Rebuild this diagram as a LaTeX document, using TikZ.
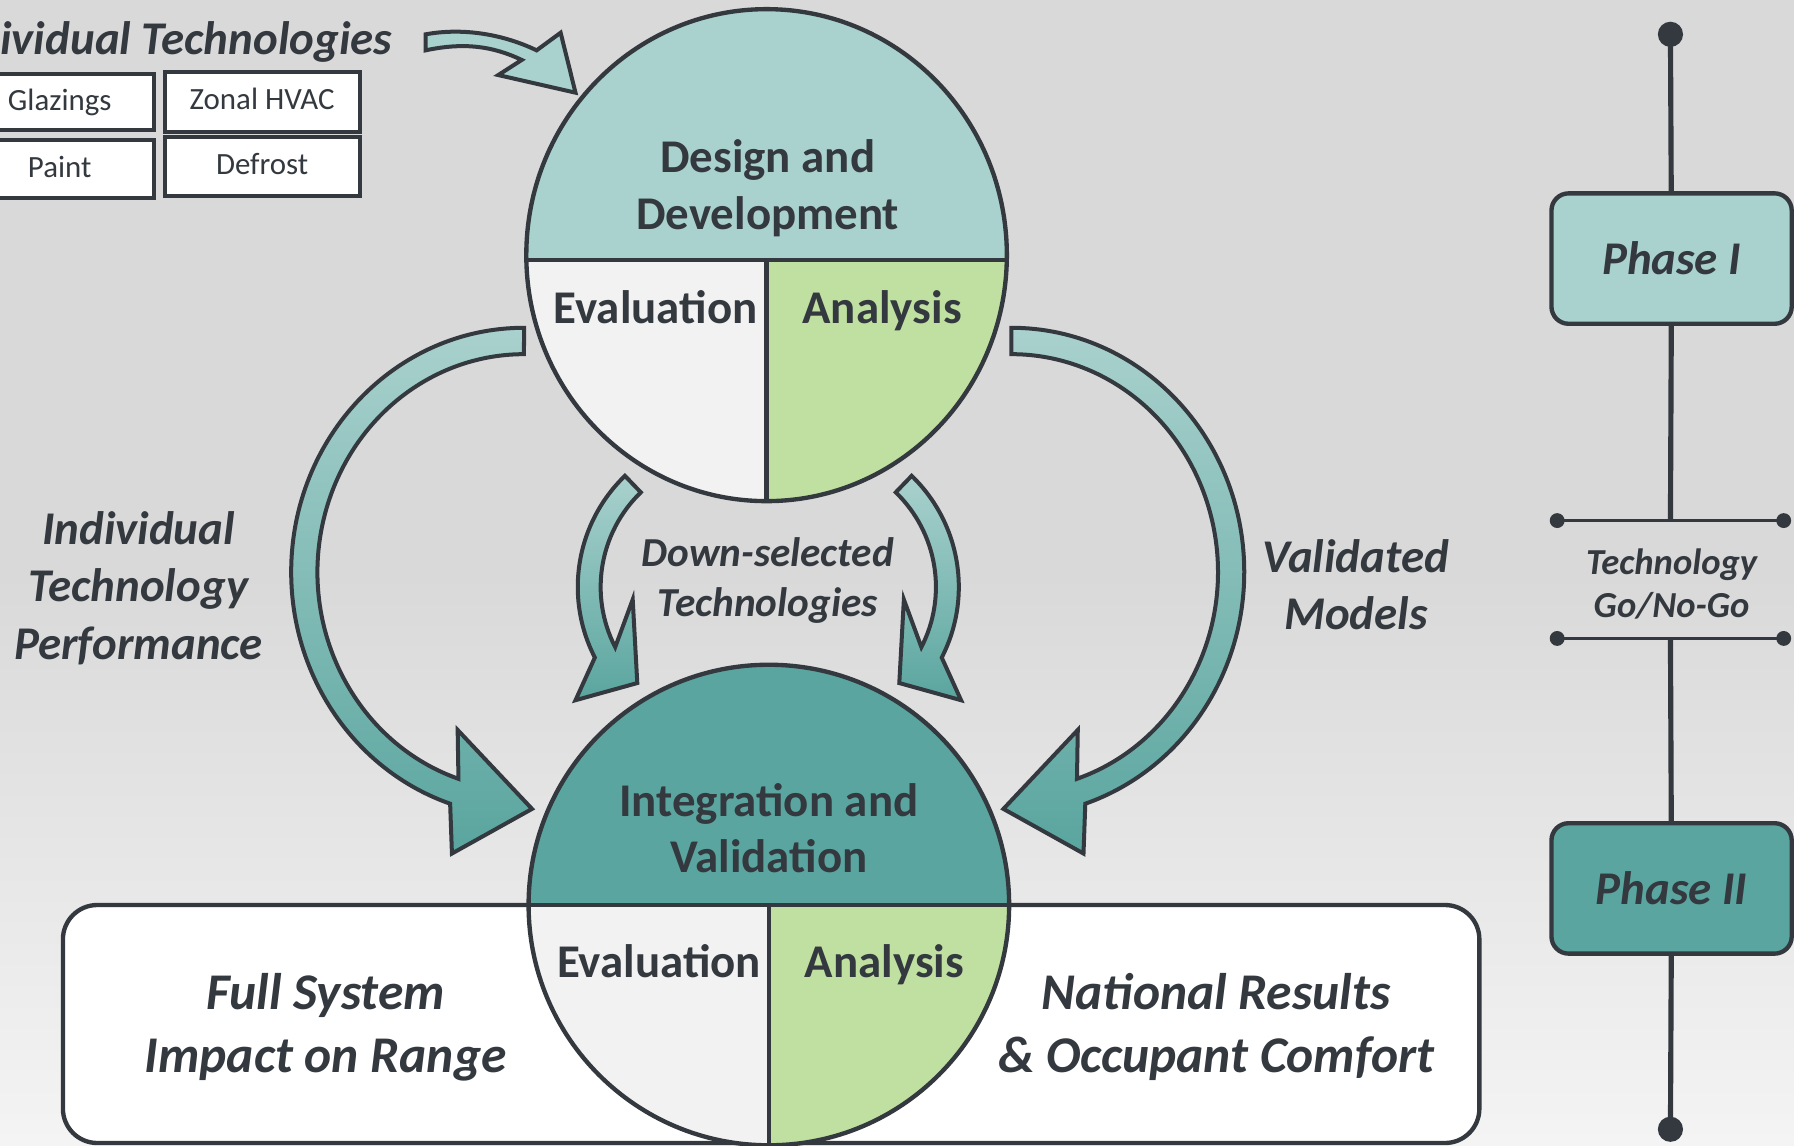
\documentclass[tikz,border=0pt]{standalone}
\usepackage{fontspec}
\setmainfont{Carlito}
\definecolor{ink}{HTML}{33393E}
\definecolor{tealL}{HTML}{A9D1CD}
\definecolor{tealD}{HTML}{5AA59F}
\definecolor{greenL}{HTML}{BFE0A1}
\definecolor{grayL}{HTML}{F2F2F2}
\definecolor{bgtop}{HTML}{D9D9D9}
\definecolor{bgbot}{HTML}{F4F4F4}
\begin{document}
\begin{tikzpicture}[x=1pt,y=-1pt,
  txt/.style={text=ink, inner sep=0pt, anchor=base},
  big/.style={txt, font=\fontsize{41}{49}\selectfont\bfseries},
  bigit/.style={txt, font=\fontsize{41}{49}\selectfont\bfseries\itshape},
  boxit/.style={txt, font=\fontsize{45}{54}\selectfont\bfseries\itshape},
  midit/.style={txt, font=\fontsize{36}{44}\selectfont\bfseries\itshape},
  smallit/.style={txt, font=\fontsize{32}{39}\selectfont\bfseries\itshape},
  techbox/.style={draw=ink, line width=3.5pt, fill=white, inner sep=0pt,
    text=ink, font=\fontsize{27}{32}\selectfont, text height=19pt, text depth=5pt},
  outline/.style={draw=ink, line width=3.8pt},
  blockarrow/.style={draw=ink, line width=3.5pt, line join=miter, top color=tealL, bottom color=tealD},
  phasebox/.style={draw=ink, line width=3.8pt, rounded corners=15pt, minimum width=210pt,
    minimum height=114pt, font=\fontsize{41}{49}\selectfont\bfseries\itshape, text=ink},
  tline/.style={draw=ink, line width=4.5pt},
  hline/.style={draw=ink, line width=3pt},
]
\useasboundingbox (0,0) rectangle (1568,1000.8);
\shade[top color=bgtop, bottom color=bgbot, middle color=bgtop] (0,0) rectangle (1568,1000.8);

% ---------- technology boxes ----------
\node[techbox, minimum width=164.5pt, minimum height=49.3pt] (glz) at (52.2,89.4) {Glazings};
\node[techbox, minimum width=170.6pt, minimum height=52.4pt] (zon) at (229.1,88.8) {Zonal HVAC};
\node[techbox, minimum width=164.5pt, minimum height=50.9pt] (pnt) at (52.2,147.9) {Paint};
\node[techbox, minimum width=170.6pt, minimum height=51.8pt] (dfr) at (229.1,145.4) {Defrost};
\node[bigit, anchor=base east] (ttl) at (343,48) {Individual Technologies};

% ---------- bottom results box ----------
\draw[draw=ink, line width=3.8pt, fill=white, rounded corners=30pt] (55,791) rectangle (1293,999);

% ---------- top circle ----------
\begin{scope}
  \clip (670,223) ellipse [x radius=210, y radius=215];
  \fill[tealL] (440,0) rectangle (900,227);
  \fill[grayL] (440,227) rectangle (670,460);
  \fill[greenL] (670,227) rectangle (900,460);
  \draw[outline] (440,227) -- (900,227);
  \draw[outline] (670,227) -- (670,460);
\end{scope}
\draw[outline] (670,223) ellipse [x radius=210, y radius=215];

% ---------- bottom circle ----------
\begin{scope}
  \clip (672,791) circle (210);
  \fill[tealD] (440,560) rectangle (900,791);
  \fill[grayL] (440,791) rectangle (672,1020);
  \fill[greenL] (672,791) rectangle (900,1020);
  \draw[outline] (440,791) -- (900,791);
  \draw[outline] (672,791) -- (672,1020);
\end{scope}
\draw[outline] (672,791) circle (210);

% ---------- arrows ----------
\path[draw=ink, line width=3.5pt, fill=tealL, line join=miter]
  (372,30) .. controls (405,24) and (440,30) .. (469,44) -- (490,28.6) -- (503,81)
  -- (435.5,65.6) -- (456,52.4) .. controls (430,40) and (405,37) .. (372,44) -- cycle;

\shade[blockarrow] (458,286.5) arc[start angle=-90, end angle=-251.5, x radius=203.5, y radius=213.5]
  -- (395,746) -- (465,707) -- (400,638) -- (400.7,680.7)
  arc[start angle=-251.5, end angle=-90, x radius=180.5, y radius=190.5] -- cycle;

\shade[blockarrow] (884,286.5) arc[start angle=-90, end angle=71.5, x radius=203.5, y radius=213.5]
  -- (947,746) -- (877,707) -- (942,638) -- (941.3,680.7)
  arc[start angle=71.5, end angle=-90, x radius=180.5, y radius=190.5] -- cycle;

\shade[blockarrow] (546.2,415.9) arc[start angle=226, end angle=152.8, radius=135]
  -- (503,612) -- (557,597) -- (553,524) -- (537.7,565.6)
  arc[start angle=152.8, end angle=226, radius=115] -- cycle;

\shade[blockarrow] (796.8,415.9) arc[start angle=-46, end angle=27.2, radius=135]
  -- (840,612) -- (786,597) -- (790,524) -- (805.3,565.6)
  arc[start angle=27.2, end angle=-46, radius=115] -- cycle;

% ---------- texts ----------
\node[big] (dd1) at (671,151) {Design and};
\node[big] (dd2) at (671,201) {Development};
\node[big] (ev1) at (573,283) {Evaluation};
\node[big] (an1) at (771,283) {Analysis};
\node[big] (iv1) at (672,714) {Integration and};
\node[big] (iv2) at (672,763) {Validation};
\node[big] (ev2) at (576,854) {Evaluation};
\node[big] (an2) at (773,854) {Analysis};
\node[bigit] (itp1) at (121,476) {Individual};
\node[bigit] (itp2) at (121,526) {Technology};
\node[bigit] (itp3) at (121,576.5) {Performance};
\node[bigit] (vm1) at (1185,500) {Validated};
\node[bigit] (vm2) at (1185,550.5) {Models};
\node[midit] (ds1) at (671,495) {Down-selected};
\node[midit] (ds2) at (671,539) {Technologies};
\node[boxit] (fs1) at (284.5,882) {Full System};
\node[boxit] (fs2) at (284.5,937) {Impact on Range};
\node[boxit] (nr1) at (1063,882) {National Results};
\node[boxit] (nr2) at (1063,937) {\& Occupant Comfort};

% ---------- timeline ----------
\coordinate (tdot) at (1460,30);
\coordinate (bdot) at (1460,987);
\coordinate (g1) at (1460,455);
\coordinate (g1l) at (1361,455);
\coordinate (g1r) at (1559,455);
\coordinate (g2) at (1460,558);
\coordinate (g2l) at (1361,558);
\coordinate (g2r) at (1559,558);
\node[phasebox, fill=tealL] (p1) at (1461,226) {Phase I};
\node[phasebox, fill=tealD] (p2) at (1461,776.5) {Phase II};
\draw[tline] (tdot) -- (p1);
\draw[tline] (p1) -- (g1);
\draw[tline] (g2) -- (p2);
\draw[tline] (p2) -- (bdot);
\draw[hline] (g1l) -- (g1r);
\draw[hline] (g2l) -- (g2r);
\fill[ink] (tdot) circle (11);
\fill[ink] (bdot) circle (11);
\fill[ink] (g1l) circle (6.5);
\fill[ink] (g1r) circle (6.5);
\fill[ink] (g2l) circle (6.5);
\fill[ink] (g2r) circle (6.5);
\node[smallit] (gng1) at (1461,502) {Technology};
\node[smallit] (gng2) at (1461,540) {Go/No-Go};
\end{tikzpicture}
\end{document}
